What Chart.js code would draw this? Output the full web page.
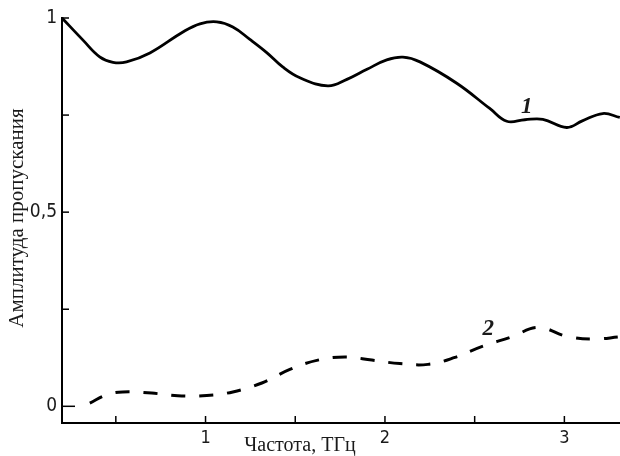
<!DOCTYPE html>
<html>
<head>
<meta charset="utf-8">
<script src="https://cdn.jsdelivr.net/npm/chart.js@4"></script>
<style>
  body { margin: 0; background: #fff; }
  #wrap { width: 620px; height: 456px; }
</style>
</head>
<body>
<div id="wrap"><canvas id="myChart"></canvas></div>
<script>
// curve 1 (solid)
const freq1 = [0.2, 0.317, 0.41, 0.484, 0.56, 0.69, 0.874, 0.969, 1.063, 1.152, 1.247, 1.341, 1.43, 1.526, 1.682, 1.788, 1.9, 2.01, 2.1, 2.195, 2.4, 2.584, 2.679, 2.78, 2.88, 3.013, 3.1, 3.214, 3.309]
const amp1 = [1.0, 0.943, 0.9, 0.886, 0.887, 0.91, 0.964, 0.985, 0.99, 0.977, 0.945, 0.911, 0.874, 0.846, 0.825, 0.842, 0.868, 0.892, 0.899, 0.887, 0.832, 0.767, 0.734, 0.738, 0.739, 0.718, 0.735, 0.754, 0.744]

// curve 2 (dashed)
const freq2 = [0.355, 0.45, 0.539, 0.7, 0.845, 1.007, 1.152, 1.314, 1.47, 1.626, 1.777, 1.927, 2.083, 2.24, 2.39, 2.546, 2.708, 2.853, 3.015, 3.16, 3.31]
const amp2 = [0.008, 0.03, 0.037, 0.034, 0.027, 0.028, 0.037, 0.06, 0.095, 0.119, 0.127, 0.119, 0.11, 0.108, 0.126, 0.155, 0.179, 0.203, 0.18, 0.173, 0.179]

const xTicks = [0.5, 1, 1.5, 2, 2.5, 3]
const yTicks = [0, 0.25, 0.5, 0.75, 1]
const yLabels = { 0: '0', 0.5: '0,5', 1: '1' }

// where the "1" and "2" marks sit, in data units
const curveLabels = [
  { text: '1', x: 2.79, y: 0.77 },
  { text: '2', x: 2.576, y: 0.2 }
]

const toPoints = (xs, ys) => xs.map((v, i) => ({ x: v, y: ys[i] }))

const narrow = '"Liberation Sans Narrow", "DejaVu Sans Condensed", "Liberation Sans", sans-serif'
const serif = '"Liberation Serif", "DejaVu Serif", serif'

const overlay = {
  id: 'overlay',
  afterDraw(chart) {
    const { ctx, chartArea, scales: { x, y } } = chart
    ctx.save()
    ctx.strokeStyle = '#000'
    ctx.lineWidth = 1.5
    // inward ticks
    xTicks.forEach(v => {
      const px = x.getPixelForValue(v)
      ctx.beginPath()
      ctx.moveTo(px, chartArea.bottom)
      ctx.lineTo(px, chartArea.bottom - 7)
      ctx.stroke()
    })
    yTicks.forEach(v => {
      const py = y.getPixelForValue(v)
      ctx.beginPath()
      ctx.moveTo(chartArea.left, py)
      ctx.lineTo(chartArea.left + (v === 0 ? 13 : 7), py)
      ctx.stroke()
    })

    // axis titles
    ctx.fillStyle = '#1a1a1a'
    ctx.textAlign = 'center'
    ctx.textBaseline = 'middle'
    ctx.font = '20px ' + serif
    ctx.fillText('Частота, ТГц', 300, 446)
    ctx.save()
    ctx.translate(17, 218)
    ctx.rotate(-Math.PI / 2)
    ctx.font = '21px ' + serif
    ctx.fillText('Амплитуда пропускания', 0, 0)
    ctx.restore()

    // curve numbers
    ctx.font = 'italic 600 23px ' + serif
    curveLabels.forEach(l => {
      ctx.fillText(l.text, x.getPixelForValue(l.x), y.getPixelForValue(l.y))
    })
    ctx.restore()
  }
}

const ctx = document.getElementById('myChart')

new Chart(ctx, {
  type: 'line',
  data: {
    datasets: [
      {
        data: toPoints(freq1, amp1),
        borderColor: '#000',
        borderWidth: 2.8,
        pointRadius: 0,
        tension: 0.4,
        fill: false,
        clip: false
      },
      {
        data: toPoints(freq2, amp2),
        borderColor: '#000',
        borderWidth: 3,
        borderDash: [14, 14],
        pointRadius: 0,
        tension: 0.4,
        fill: false,
        clip: false
      }
    ]
  },
  options: {
    responsive: true,
    maintainAspectRatio: false,
    animation: false,
    layout: { padding: { top: 18, right: 0, left: 0, bottom: 0 } },
    plugins: {
      legend: { display: false },
      tooltip: { enabled: false }
    },
    scales: {
      x: {
        type: 'linear',
        min: 0.2,
        max: 3.31,
        grid: { display: false, drawTicks: false },
        border: { display: true, color: '#000', width: 2 },
        afterBuildTicks: scale => { scale.ticks = xTicks.map(v => ({ value: v })) },
        afterFit: scale => { scale.height = 33 },
        ticks: {
          autoSkip: false,
          maxRotation: 0,
          padding: 5,
          color: '#1a1a1a',
          font: { family: narrow, size: 18 },
          callback: v => Number.isInteger(v) ? String(v) : ''
        }
      },
      y: {
        type: 'linear',
        min: -0.043,
        max: 1,
        grid: { display: false, drawTicks: false },
        border: { display: true, color: '#000', width: 2 },
        afterBuildTicks: scale => { scale.ticks = yTicks.map(v => ({ value: v })) },
        afterFit: scale => { scale.width = 62 },
        ticks: {
          autoSkip: false,
          padding: 5,
          color: '#1a1a1a',
          font: { family: narrow, size: 19 },
          callback: v => yLabels[v] || ''
        }
      }
    }
  },
  plugins: [overlay]
})
</script>
</body>
</html>
